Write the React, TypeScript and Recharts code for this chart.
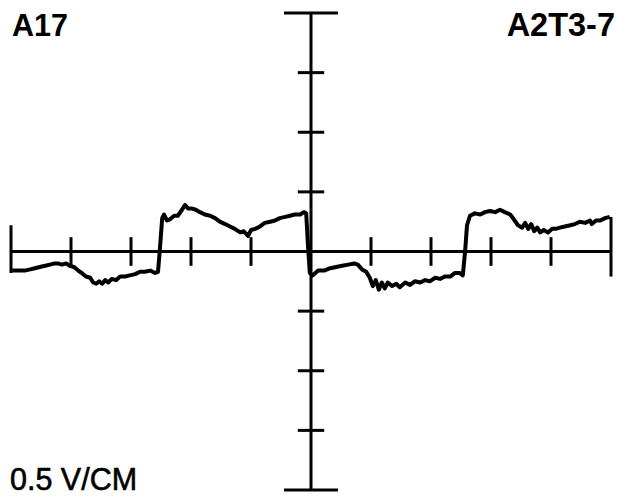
import React from "react";
import { LineChart, Line, XAxis, YAxis, ReferenceLine } from "recharts";

// time in 1/10 division units (10 per division), voltage in volts (0.5 V per division)
const traceTime = [
  0.2, 0.8, 1.5, 2.3, 3.2, 4.0, 4.8, 5.7, 6.5, 7.3, 7.8, 8.5, 9.2, 9.8, 10.5, 11.2, 11.8, 12.5, 13.2, 13.7, 14.2, 14.7, 15.2, 15.7, 16.2, 16.8, 17.5, 18.2, 19.0, 19.8, 20.7, 21.5, 22.3, 23.2, 24.0, 24.5,
  24.8, 25.2, 25.5, 26.0, 26.5, 27.2, 27.8, 28.5, 29.0, 29.5, 30.2, 30.8, 31.5, 32.3, 33.2, 34.0, 34.8, 35.7, 36.5, 37.3, 38.2, 38.8, 39.5, 40.0, 40.7, 41.5, 42.3, 43.2, 44.0, 44.8, 45.7, 46.5, 47.3, 48.2, 48.8, 49.2,
  49.5, 49.8, 50.3, 51.2, 52.2, 53.2, 54.2, 55.2, 56.2, 57.2, 57.8, 58.5, 59.2, 59.8, 60.3, 60.8, 61.3, 61.8, 62.3, 62.8, 63.5, 64.2, 64.8, 65.7, 66.5, 67.3, 68.2, 69.0, 69.8, 70.7, 71.5, 72.3, 73.2, 74.0, 74.8, 75.3,
  75.7, 76.0, 76.5, 77.3, 78.2, 79.0, 79.8, 80.7, 81.5, 82.3, 83.2, 83.8, 84.5, 85.2, 85.7, 86.2, 86.7, 87.2, 87.7, 88.2, 88.8, 89.5, 90.2, 90.8, 91.5, 92.3, 93.2, 94.0, 94.8, 95.7, 96.5, 96.8, 97.5, 98.2, 99.0, 99.8,
];

const traceVolts = [
  -0.16, -0.16, -0.16, -0.16, -0.15, -0.14, -0.13, -0.12, -0.11, -0.10, -0.10, -0.11, -0.10, -0.12, -0.13, -0.16, -0.18, -0.21, -0.22, -0.26, -0.27, -0.25, -0.27, -0.24, -0.26, -0.23, -0.24, -0.21, -0.21, -0.20, -0.19, -0.17, -0.17, -0.16, -0.18, -0.17,
  0.01, 0.28, 0.31, 0.26, 0.27, 0.30, 0.30, 0.35, 0.39, 0.36, 0.36, 0.35, 0.33, 0.31, 0.30, 0.28, 0.25, 0.23, 0.21, 0.19, 0.16, 0.17, 0.13, 0.18, 0.19, 0.21, 0.24, 0.25, 0.26, 0.28, 0.29, 0.30, 0.31, 0.31, 0.33, 0.32,
  0.05, -0.18, -0.20, -0.16, -0.16, -0.14, -0.13, -0.12, -0.11, -0.10, -0.11, -0.15, -0.17, -0.22, -0.29, -0.24, -0.32, -0.26, -0.31, -0.26, -0.29, -0.27, -0.30, -0.26, -0.28, -0.25, -0.26, -0.24, -0.25, -0.22, -0.23, -0.21, -0.21, -0.18, -0.18, -0.20,
  0.01, 0.22, 0.30, 0.32, 0.31, 0.33, 0.34, 0.33, 0.35, 0.33, 0.31, 0.27, 0.22, 0.20, 0.24, 0.19, 0.23, 0.17, 0.20, 0.16, 0.18, 0.16, 0.19, 0.19, 0.20, 0.21, 0.22, 0.23, 0.25, 0.24, 0.26, 0.23, 0.26, 0.26, 0.28, 0.29,
];

const xTicks = [10, 20, 30, 40, 60, 70, 80, 90];
const yTicks = [-1.5, -1.0, -0.5, 0.5, 1.0, 1.5];
const xDomain = [0, 100];
const yDomain = [-2, 2];
const centerTime = 50;
const leftCap = [-0.18, 0.22];
const rightCap = [-0.21, 0.29];
const topLabelLeft = "A17";
const topLabelRight = "A2T3-7";
const scaleLabel = "0.5 V/CM";

const data = traceTime.map((t, i) => ({ t, v: traceVolts[i] }));

const W = 617;
const H = 498;
const INK = "#000";
const AXIS_W = 3;
const X_TICK_HALF = 0.12; // volts
const Y_TICK_HALF = 2.2; // time units
const CAP_HALF = 4.5; // time units
const FONT = "'Liberation Sans', Arial, sans-serif";

export default function App() {
  return (
    <div style={{ position: "absolute", left: 0, top: 0, width: W, height: H, background: "#fff" }}>
      <LineChart width={W} height={H} data={data} margin={{ top: 13, right: 6, bottom: 8, left: 11 }}>
        <XAxis dataKey="t" type="number" domain={xDomain} hide />
        <YAxis type="number" domain={yDomain} hide />
        <ReferenceLine y={0} stroke={INK} strokeWidth={AXIS_W} ifOverflow="visible" />
        <ReferenceLine x={centerTime} stroke={INK} strokeWidth={AXIS_W} ifOverflow="visible" />
        <ReferenceLine
          segment={[{ x: xDomain[0], y: leftCap[0] }, { x: xDomain[0], y: leftCap[1] }]}
          stroke={INK}
          strokeWidth={AXIS_W}
          ifOverflow="visible"
        />
        <ReferenceLine
          segment={[{ x: xDomain[1], y: rightCap[0] }, { x: xDomain[1], y: rightCap[1] }]}
          stroke={INK}
          strokeWidth={AXIS_W}
          ifOverflow="visible"
        />
        <ReferenceLine
          segment={[{ x: centerTime - CAP_HALF, y: yDomain[1] }, { x: centerTime + CAP_HALF, y: yDomain[1] }]}
          stroke={INK}
          strokeWidth={AXIS_W}
          ifOverflow="visible"
        />
        <ReferenceLine
          segment={[{ x: centerTime - CAP_HALF, y: yDomain[0] }, { x: centerTime + CAP_HALF, y: yDomain[0] }]}
          stroke={INK}
          strokeWidth={AXIS_W}
          ifOverflow="visible"
        />
        {xTicks.map((t) => (
          <ReferenceLine
            key={"xt" + t}
            segment={[{ x: t, y: -X_TICK_HALF }, { x: t, y: X_TICK_HALF }]}
            stroke={INK}
            strokeWidth={AXIS_W}
            ifOverflow="visible"
          />
        ))}
        {yTicks.map((v) => (
          <ReferenceLine
            key={"yt" + v}
            segment={[{ x: centerTime - Y_TICK_HALF, y: v }, { x: centerTime + Y_TICK_HALF, y: v }]}
            stroke={INK}
            strokeWidth={AXIS_W}
            ifOverflow="visible"
          />
        ))}
        <Line
          type="linear"
          dataKey="v"
          stroke={INK}
          strokeWidth={4}
          dot={false}
          isAnimationActive={false}
          strokeLinejoin="round"
        />
      </LineChart>
      <svg
        width={W}
        height={H}
        style={{ position: "absolute", left: 0, top: 0, pointerEvents: "none" }}
      >
        <text x={12} y={36} fontFamily={FONT} fontWeight="bold" fontSize={30.5} fill={INK}>
          {topLabelLeft}
        </text>
        <text x={615} y={36} textAnchor="end" fontFamily={FONT} fontWeight="bold" fontSize={32.5} fill={INK}>
          {topLabelRight}
        </text>
        <text x={10} y={490} fontFamily={FONT} fontSize={30.5} fill={INK} stroke={INK} strokeWidth={0.6}>
          {scaleLabel}
        </text>
      </svg>
    </div>
  );
}
